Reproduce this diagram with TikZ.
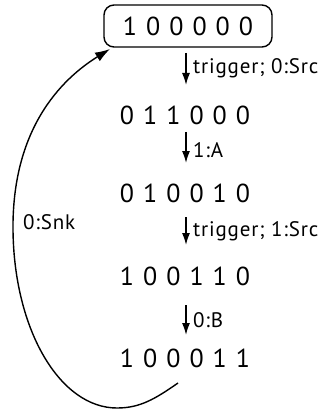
\documentclass[tikz,border=0pt]{standalone}
\usepackage{fontspec}
\setmainfont{PT Sans}[WordSpace=1.3]
\newfontfamily\lblfont{PT Sans}[LetterSpace=4]
\usetikzlibrary{arrows.meta}
\tikzset{
  state/.style={inner sep=0pt, font=\fontsize{26}{28}\selectfont},
  start/.style={state, draw, line width=1.4pt, rounded corners=10pt, minimum width=168pt, minimum height=42pt},
  lbl/.style={font=\lblfont\fontsize{21}{23}\selectfont, anchor=west, inner sep=0pt},
  stepar/.style={line width=1.5pt, -{Latex[length=12pt,width=8pt]}},
  back/.style={line width=1.4pt, -{Latex[length=15pt,width=10pt]}}
}
\begin{document}
\begin{tikzpicture}[x=1pt,y=-1pt]
\useasboundingbox (0,0) rectangle (332,414);
\node[start] (n0) at (188,26) {1 0 0 0 0 0};
\node[state] (n1) at (185,115) {0 1 1 0 0 0};
\node[state] (n2) at (185,193) {0 1 0 0 1 0};
\node[state] (n3) at (185,276) {1 0 0 1 1 0};
\node[state] (n4) at (185,358) {1 0 0 0 1 1};
\coordinate (c0a) at (186,53);  \coordinate (c0b) at (186,85);
\coordinate (c1a) at (186,132); \coordinate (c1b) at (186,163);
\coordinate (c2a) at (186,217); \coordinate (c2b) at (186,245);
\coordinate (c3a) at (186,305); \coordinate (c3b) at (186,335);
\draw[stepar] (c0a) -- (c0b);
\draw[stepar] (c1a) -- (c1b);
\draw[stepar] (c2a) -- (c2b);
\draw[stepar] (c3a) -- (c3b);
\node[lbl] (l0) at (193,68) {trigger; 0:Src};
\node[lbl] (l1) at (193,150) {1:A};
\node[lbl] (l2) at (193,231) {trigger; 1:Src};
\node[lbl] (l3) at (193,320) {0:B};
\coordinate (bs) at (178,383);
\coordinate (be) at (110,49);
\draw[back] (bs) .. controls (155,399) and (140,408) .. (117,408)
  .. controls (60,408) and (14,330) .. (13,230)
  .. controls (12,130) and (60,80) .. (be);
\node[lbl] (l4) at (23,222) {0:Snk};
\end{tikzpicture}
\end{document}
